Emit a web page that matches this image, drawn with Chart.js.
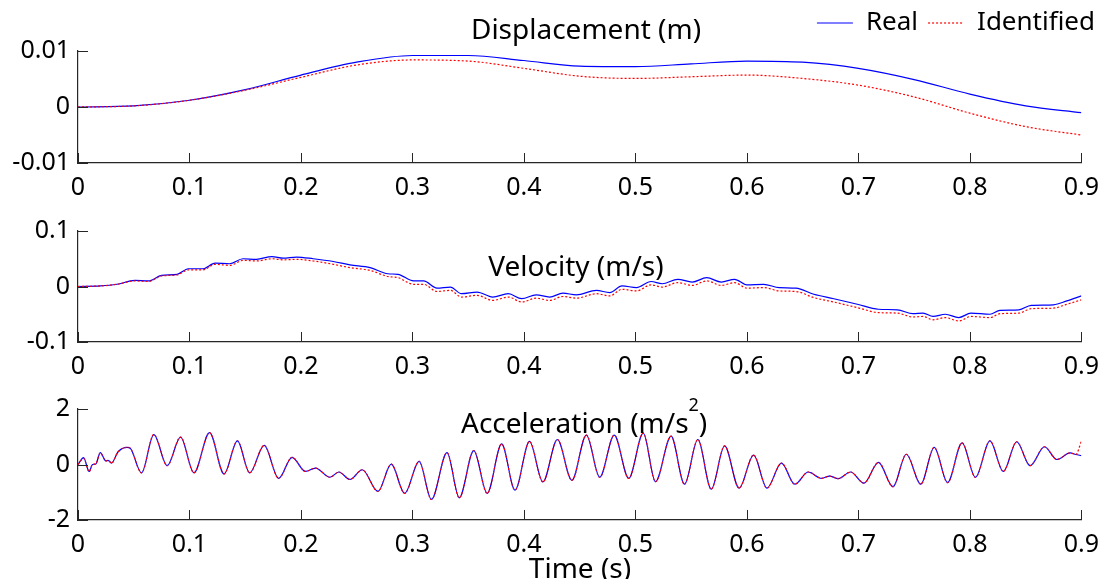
<!DOCTYPE html>
<html>
<head>
<meta charset="utf-8">
<script src="https://cdn.jsdelivr.net/npm/chart.js@4.4.1/dist/chart.umd.min.js"></script>
<style>
  body { margin:0; background:#fff; width:1109px; height:579px; position:relative; overflow:hidden; font-family:"Noto Sans", sans-serif; }
  .box { position:absolute; left:0; width:1109px; }
  .lbl { position:absolute; font-size:28px; line-height:1; color:#000; white-space:nowrap; transform:translate(-50%,-50%); }
  .sup { position:relative; top:-22px; font-size:18px; }
</style>
</head>
<body>
<div class="box" style="top:0;height:203px"><canvas id="dispChart"></canvas></div>
<div class="box" style="top:208px;height:174px"><canvas id="velChart"></canvas></div>
<div class="box" style="top:386px;height:174px"><canvas id="accChart"></canvas></div>

<div class="lbl" style="left:586px;top:28px">Displacement (m)</div>
<div class="lbl" style="left:576px;top:265px">Velocity (m/s)</div>
<div class="lbl" style="left:461px;top:422px;transform:translateY(-50%)">Acceleration (m/s<span class="sup">2</span>)</div>
<div class="lbl" style="left:580px;top:567px">Time (s)</div>

<script>
// displacement (m)
const dispTime = [0, 0.05, 0.1, 0.15, 0.2, 0.25, 0.3, 0.35, 0.4, 0.45, 0.5, 0.55, 0.6, 0.65, 0.7, 0.75, 0.8, 0.85, 0.9];
const dispReal = [0, 0.0002, 0.0012, 0.0031, 0.0057, 0.0080, 0.0092, 0.0092, 0.0083, 0.0073, 0.0072, 0.0077, 0.0082, 0.0080, 0.0069, 0.0049, 0.0023, 0.0002, -0.0010];
const dispIdent = [0, 0.0002, 0.0012, 0.0030, 0.0053, 0.0075, 0.0084, 0.0082, 0.0069, 0.0055, 0.0051, 0.0054, 0.0057, 0.0051, 0.0039, 0.0018, -0.0011, -0.0035, -0.0050];

// velocity (m/s)
const velTime = [0, 0.020, 0.035, 0.051, 0.063, 0.075, 0.089, 0.099, 0.112, 0.123, 0.136, 0.148, 0.160, 0.174, 0.184, 0.196, 0.211,
  0.229, 0.244, 0.262, 0.278, 0.287, 0.301, 0.310, 0.322, 0.334, 0.344, 0.358, 0.372, 0.386, 0.398, 0.411, 0.423, 0.435, 0.447,
  0.465, 0.477, 0.488, 0.501, 0.514, 0.524, 0.538, 0.551, 0.564, 0.577, 0.589, 0.600, 0.615, 0.629, 0.644, 0.660, 0.678, 0.699,
  0.718, 0.735, 0.749, 0.758, 0.767, 0.778, 0.790, 0.801, 0.818, 0.827, 0.844, 0.855, 0.875, 0.887, 0.900];
const velReal = [0, 0.001, 0.004, 0.011, 0.010, 0.020, 0.022, 0.032, 0.032, 0.042, 0.041, 0.050, 0.049, 0.054, 0.051, 0.053, 0.050,
  0.045, 0.039, 0.034, 0.023, 0.022, 0.010, 0.010, -0.003, -0.001, -0.013, -0.010, -0.019, -0.013, -0.022, -0.015, -0.019, -0.012, -0.015,
  -0.007, -0.011, 0.001, -0.002, 0.009, 0.005, 0.013, 0.008, 0.016, 0.008, 0.013, 0.003, 0.004, -0.002, -0.003, -0.014, -0.022, -0.032,
  -0.041, -0.042, -0.049, -0.048, -0.054, -0.050, -0.056, -0.048, -0.050, -0.043, -0.042, -0.034, -0.033, -0.026, -0.017];
const velIdent = [0, 0.001, 0.004, 0.010, 0.009, 0.019, 0.021, 0.030, 0.030, 0.040, 0.038, 0.047, 0.046, 0.050, 0.048, 0.049, 0.046,
  0.040, 0.034, 0.029, 0.018, 0.016, 0.004, 0.004, -0.009, -0.007, -0.019, -0.016, -0.025, -0.019, -0.028, -0.021, -0.025, -0.018, -0.021,
  -0.013, -0.017, -0.005, -0.008, 0.003, -0.001, 0.007, 0.002, 0.010, 0.002, 0.007, -0.003, -0.002, -0.008, -0.009, -0.020, -0.028, -0.038,
  -0.047, -0.048, -0.055, -0.054, -0.060, -0.056, -0.062, -0.054, -0.056, -0.049, -0.048, -0.040, -0.039, -0.032, -0.024];

// acceleration (m/s^2), read at the turning points
const accTime = [0, 0.005, 0.010, 0.013, 0.016, 0.020, 0.025, 0.027, 0.030, 0.036, 0.044, 0.047, 0.057, 0.068, 0.080, 0.092, 0.104,
  0.118, 0.131, 0.143, 0.154, 0.167, 0.180, 0.192, 0.204, 0.213, 0.226, 0.234, 0.244, 0.255, 0.269, 0.281, 0.293, 0.306, 0.317,
  0.331, 0.342, 0.355, 0.367, 0.380, 0.392, 0.405, 0.417, 0.430, 0.443, 0.456, 0.468, 0.481, 0.494, 0.507, 0.518, 0.532, 0.544,
  0.556, 0.568, 0.580, 0.593, 0.606, 0.618, 0.631, 0.643, 0.655, 0.667, 0.674, 0.682, 0.693, 0.705, 0.718, 0.731, 0.743, 0.756,
  0.768, 0.780, 0.793, 0.805, 0.818, 0.830, 0.842, 0.854, 0.867, 0.878, 0.890, 0.895, 0.900];
const accReal = [0, 0.25, -0.25, 0.00, 0.02, 0.43, 0.13, 0.15, 0.05, 0.46, 0.62, 0.58, -0.30, 1.08, -0.04, 0.99, -0.30,
  1.15, -0.34, 0.85, -0.30, 0.69, -0.50, 0.26, -0.25, -0.13, -0.46, -0.27, -0.54, -0.19, -0.97, 0.01, -1.04, 0.11, -1.26,
  0.43, -1.20, 0.50, -1.04, 0.74, -0.92, 0.83, -0.63, 0.90, -0.57, 1.06, -0.46, 1.06, -0.50, 1.13, -0.62, 1.02, -0.71,
  0.90, -0.89, 0.67, -0.85, 0.34, -0.85, 0.05, -0.71, -0.27, -0.50, -0.42, -0.51, -0.27, -0.67, 0.08, -0.80, 0.37, -0.71,
  0.62, -0.65, 0.78, -0.46, 0.85, -0.25, 0.82, -0.04, 0.64, 0.18, 0.42, 0.36, 0.32];
const accIdent = [0, 0.22, -0.26, 0.00, 0.03, 0.42, 0.13, 0.15, 0.05, 0.46, 0.62, 0.58, -0.30, 1.08, -0.04, 0.99, -0.30,
  1.15, -0.34, 0.85, -0.30, 0.69, -0.50, 0.26, -0.25, -0.13, -0.46, -0.27, -0.54, -0.19, -0.97, 0.01, -1.04, 0.11, -1.26,
  0.43, -1.20, 0.50, -1.04, 0.74, -0.92, 0.83, -0.63, 0.90, -0.57, 1.06, -0.46, 1.06, -0.50, 1.13, -0.62, 1.02, -0.71,
  0.90, -0.89, 0.67, -0.85, 0.34, -0.85, 0.05, -0.71, -0.27, -0.50, -0.42, -0.51, -0.27, -0.67, 0.08, -0.80, 0.37, -0.71,
  0.62, -0.65, 0.78, -0.46, 0.85, -0.25, 0.82, -0.04, 0.64, 0.18, 0.42, 0.36, 0.83];

const FONT = '"Noto Sans", sans-serif';
const AXIS = '#262626';

// MATLAB style inward tick marks
const innerTicks = {
  id: 'innerTicks',
  afterDatasetsDraw(chart) {
    const {ctx, chartArea: a, scales: {x, y}} = chart;
    ctx.save();
    ctx.strokeStyle = AXIS;
    ctx.lineWidth = 1;
    ctx.beginPath();
    x.ticks.forEach(t => {
      const px = Math.round(x.getPixelForValue(t.value)) + 0.5;
      ctx.moveTo(px, a.bottom); ctx.lineTo(px, a.bottom - 10);
    });
    y.ticks.forEach(t => {
      const py = Math.round(y.getPixelForValue(t.value)) + 0.5;
      ctx.moveTo(a.left, py); ctx.lineTo(a.left + 10, py);
    });
    ctx.stroke();
    ctx.restore();
  }
};

// legend sits beside the title, not above the plot
const legendPlace = {
  id: 'legendPlace',
  beforeLayout(chart, args, opts) {
    const lg = chart.legend;
    if (lg && !lg._fixed) {
      const fit = lg.fit;
      lg.fit = function () { fit.call(this); this.height = opts.height; };
      lg._fixed = true;
    }
  },
  afterLayout(chart, args, opts) {
    const lg = chart.legend;
    if (lg) { lg.left += opts.shift; lg.right += opts.shift; }
  }
};

function pts(times, vals) {
  return times.map((t, i) => ({x: t, y: vals[i]}));
}

function makeChart(id, times, real, ident, yMin, yMax, yStep, withLegend) {
  const plugins = [innerTicks];
  if (withLegend) plugins.push(legendPlace);
  return new Chart(document.getElementById(id), {
    type: 'line',
    data: {
      datasets: [{
        label: 'Real',
        data: pts(times, real),
        borderColor: '#0000ff',
        borderWidth: 1.2,
        pointRadius: 0,
        cubicInterpolationMode: 'monotone',
        order: 1
      }, {
        label: 'Identified',
        data: pts(times, ident),
        borderColor: '#ff0000',
        borderWidth: 1.2,
        borderDash: [2, 2],
        pointRadius: 0,
        cubicInterpolationMode: 'monotone',
        order: 0
      }]
    },
    options: {
      responsive: true,
      maintainAspectRatio: false,
      animation: false,
      layout: {padding: {top: withLegend ? 0 : 20, right: 27, left: 0, bottom: 0}},
      plugins: {
        tooltip: {enabled: false},
        legend: {
          display: withLegend,
          position: 'top',
          align: 'end',
          labels: {
            usePointStyle: true,
            pointStyle: 'line',
            pointStyleWidth: 36,
            padding: 10,
            color: '#000',
            font: {size: 26, family: FONT},
            sort: (a, b) => a.datasetIndex - b.datasetIndex,
            generateLabels: chart => Chart.defaults.plugins.legend.labels.generateLabels(chart).map(item => {
              const ds = chart.data.datasets[item.datasetIndex];
              item.lineDash = ds.borderDash || [];
              item.lineWidth = ds.borderWidth;
              item.strokeStyle = ds.borderColor;
              return item;
            })
          }
        },
        legendPlace: {height: 51, shift: 23}
      },
      scales: {
        x: {
          type: 'linear',
          min: 0,
          max: 0.9,
          afterFit: s => { s.height = 40; },
          grid: {display: false, drawTicks: false},
          border: {display: true, color: AXIS, width: 1.2},
          ticks: {
            stepSize: 0.1,
            padding: 10,
            autoSkip: false,
            maxRotation: 0,
            color: '#000',
            font: {size: 25, family: FONT},
            callback: v => String(Math.round(v * 10) / 10)
          }
        },
        y: {
          min: yMin,
          max: yMax,
          afterFit: s => { s.width = 78; },
          grid: {display: false, drawTicks: false},
          border: {display: true, color: AXIS, width: 1.2},
          ticks: {
            stepSize: yStep,
            padding: 8,
            color: '#000',
            font: {size: 25, family: FONT},
            callback: v => String(+v.toFixed(3))
          }
        }
      }
    },
    plugins: plugins
  });
}

makeChart('dispChart', dispTime, dispReal, dispIdent, -0.01, 0.01, 0.01, true);
makeChart('velChart', velTime, velReal, velIdent, -0.1, 0.1, 0.1, false);
makeChart('accChart', accTime, accReal, accIdent, -2, 2, 2, false);
</script>
</body>
</html>
